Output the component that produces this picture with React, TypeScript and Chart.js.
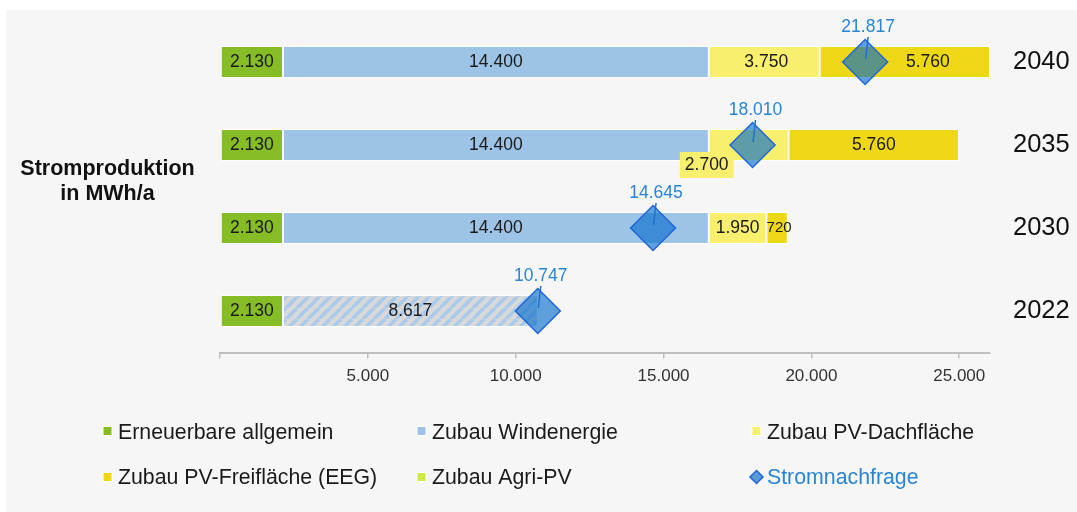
import React, { useEffect, useRef } from 'react';
import { Chart, registerables } from 'chart.js';

Chart.register(...registerables);

// ---- data ----
const years = ['2040', '2035', '2030', '2022'];
const erneuerbare = [2130, 2130, 2130, 2130];
const windenergie = [14400, 14400, 14400, 8617];
const pvDach = [3750, 2700, 1950, null];
const pvFrei = [5760, 5760, 720, null];
const agriPV = [null, null, null, null];
const stromnachfrage = [21817, 18010, 14645, 10747];
const xTickValues = [0, 5000, 10000, 15000, 20000, 25000];
const xMax = 26040;

const seriesNames = [
  'Erneuerbare allgemein',
  'Zubau Windenergie',
  'Zubau PV-Dachfläche',
  'Zubau PV-Freifläche (EEG)',
  'Zubau Agri-PV',
  'Stromnachfrage',
];

const titleLines = ['Stromproduktion', 'in MWh/a'];

// ---- styles ----
const FONT = "'Liberation Sans', Arial, sans-serif";
const C_GREEN = '#86bc25';
const C_BLUE = '#9dc3e6';
const C_DACH = '#f7ef6d';
const C_FREI = '#eed816';
const C_AGRI = '#cfe84a';
const C_DEMAND_FILL = 'rgba(0,106,204,0.62)';
const C_DEMAND_BORDER = '#2166d8';
const C_DEMAND_TEXT = '#2a84d2';

const fmt = (v: number) => String(Math.round(v)).replace(/\B(?=(\d{3})+(?!\d))/g, '.');

// label placement tweaks: key = datasetIndex-index
const labelOverrides: Record<string, { dx?: number; dy?: number; box?: string; size?: number }> = {
  '2-0': { dx: 2 },
  '2-1': { dx: -42, dy: 20, box: C_DACH },
  '3-0': { dx: 23 },
  '3-2': { dx: 2, size: 15 },
};

function makeHatch(): CanvasPattern | string {
  const s = 11;
  const c = document.createElement('canvas');
  c.width = s;
  c.height = s;
  const g = c.getContext('2d');
  if (!g) return '#d9d9d9';
  g.fillStyle = '#d9d9d9';
  g.fillRect(0, 0, s, s);
  g.strokeStyle = '#a9cbeb';
  g.lineWidth = 3.5;
  for (let k = -1; k <= 1; k++) {
    g.beginPath();
    g.moveTo(k * s, s);
    g.lineTo(k * s + s, 0);
    g.stroke();
  }
  const p = g.createPattern(c, 'repeat');
  return p || '#d9d9d9';
}

const decor = {
  id: 'decor',
  beforeDraw(chart: any) {
    const { ctx, width, height } = chart;
    ctx.save();
    ctx.fillStyle = '#ffffff';
    ctx.fillRect(0, 0, width, height);
    ctx.fillStyle = '#f6f6f6';
    ctx.fillRect(6, 10, width - 6, height - 10);
    ctx.restore();
  },
  afterDatasetsDraw(chart: any) {
    const { ctx } = chart;
    ctx.save();
    chart.data.datasets.forEach((ds: any, di: number) => {
      if (ds.type === 'line') return;
      const meta = chart.getDatasetMeta(di);
      meta.data.forEach((el: any, i: number) => {
        const v = ds.data[i];
        if (v == null) return;
        const ov = labelOverrides[`${di}-${i}`] || {};
        const cx = (el.x + el.base) / 2 + (ov.dx || 0);
        const cy = el.y + (ov.dy || 0);
        const size = ov.size || 17.5;
        ctx.font = `${size}px ${FONT}`;
        const txt = fmt(v);
        if (ov.box) {
          const w = ctx.measureText(txt).width + 10;
          ctx.fillStyle = ov.box;
          ctx.fillRect(cx - w / 2, cy - 13, w, 26);
        }
        ctx.fillStyle = '#1a1a1a';
        ctx.textAlign = 'center';
        ctx.textBaseline = 'middle';
        ctx.fillText(txt, cx, cy);
      });
    });
    // demand labels + leader lines
    chart.data.datasets.forEach((ds: any, di: number) => {
      if (ds.type !== 'line') return;
      const meta = chart.getDatasetMeta(di);
      meta.data.forEach((el: any, i: number) => {
        const v = ds.data[i];
        if (v == null) return;
        ctx.strokeStyle = '#1f6fd0';
        ctx.lineWidth = 1.5;
        ctx.beginPath();
        ctx.moveTo(el.x + 0.5, el.y - 3);
        ctx.lineTo(el.x + 3, el.y - 25);
        ctx.stroke();
        ctx.font = `17.5px ${FONT}`;
        ctx.fillStyle = C_DEMAND_TEXT;
        ctx.textAlign = 'center';
        ctx.textBaseline = 'middle';
        ctx.fillText(fmt(v), el.x + 3, el.y - 35);
      });
    });
    ctx.restore();
  },
  afterDraw(chart: any) {
    const { ctx } = chart;
    ctx.save();
    // left title
    ctx.font = `bold 21.5px ${FONT}`;
    ctx.fillStyle = '#111111';
    ctx.textAlign = 'center';
    ctx.textBaseline = 'alphabetic';
    ctx.fillText(titleLines[0], 107.5, 175);
    ctx.fillText(titleLines[1], 107.5, 200);

    // legend
    const colsBox = [103, 417, 752];
    const rowsBase = [439, 484];
    const rowsMid = [431, 477];
    const colors = [C_GREEN, C_BLUE, C_DACH, C_FREI, C_AGRI, null];
    ctx.font = `21.3px ${FONT}`;
    ctx.textAlign = 'left';
    seriesNames.forEach((name, k) => {
      const col = k % 3;
      const row = Math.floor(k / 3);
      const bx = colsBox[col];
      const my = rowsMid[row];
      const col0 = colors[k];
      if (col0) {
        ctx.fillStyle = col0;
        ctx.fillRect(bx, my - 4.5, 9, 9);
        ctx.strokeStyle = '#ffffff';
        ctx.lineWidth = 1;
        ctx.strokeRect(bx, my - 4.5, 9, 9);
        ctx.fillStyle = '#1a1a1a';
      } else {
        const cx = bx + 4.5;
        const r = 6.5;
        ctx.beginPath();
        ctx.moveTo(cx, my - r);
        ctx.lineTo(cx + r, my);
        ctx.lineTo(cx, my + r);
        ctx.lineTo(cx - r, my);
        ctx.closePath();
        ctx.fillStyle = '#5b9bd5';
        ctx.fill();
        ctx.strokeStyle = C_DEMAND_BORDER;
        ctx.lineWidth = 1.5;
        ctx.stroke();
        ctx.fillStyle = C_DEMAND_TEXT;
      }
      ctx.fillText(name, bx + 15, rowsBase[row]);
    });
    ctx.restore();
  },
};

export default function App() {
  const ref = useRef<HTMLCanvasElement | null>(null);

  useEffect(() => {
    if (!ref.current) return;
    const hatch = makeHatch();
    const barCommon = {
      type: 'bar' as const,
      stack: 'prod',
      order: 1,
      borderColor: 'rgba(255,255,255,0.85)',
      borderWidth: 1,
      borderSkipped: false,
      categoryPercentage: 0.386,
      barPercentage: 1,
    };
    const chart = new Chart(ref.current, {
      type: 'bar',
      data: {
        labels: years,
        datasets: [
          { ...barCommon, label: seriesNames[0], data: erneuerbare, backgroundColor: C_GREEN },
          {
            ...barCommon,
            label: seriesNames[1],
            data: windenergie,
            backgroundColor: [C_BLUE, C_BLUE, C_BLUE, hatch],
          },
          { ...barCommon, label: seriesNames[2], data: pvDach, backgroundColor: C_DACH },
          { ...barCommon, label: seriesNames[3], data: pvFrei, backgroundColor: C_FREI },
          { ...barCommon, label: seriesNames[4], data: agriPV, backgroundColor: C_AGRI },
          {
            type: 'line',
            label: seriesNames[5],
            data: stromnachfrage,
            indexAxis: 'y',
            stack: 'demand',
            order: 0,
            showLine: false,
            pointStyle: 'rectRot',
            pointRadius: 22.5,
            pointHoverRadius: 22.5,
            pointBackgroundColor: C_DEMAND_FILL,
            pointBorderColor: C_DEMAND_BORDER,
            pointBorderWidth: 1.5,
            backgroundColor: C_DEMAND_FILL,
            borderColor: C_DEMAND_BORDER,
            clip: false,
          } as any,
        ],
      },
      options: {
        indexAxis: 'y',
        responsive: false,
        animation: false,
        devicePixelRatio: 1,
        layout: { autoPadding: false, padding: { left: 220, top: 20.5, right: 0, bottom: 119.5 } },
        plugins: {
          legend: { display: false },
          tooltip: { enabled: false },
        },
        scales: {
          x: {
            type: 'linear',
            position: 'bottom',
            stacked: true,
            min: 0,
            max: xMax,
            afterBuildTicks: (s: any) => {
              s.ticks = xTickValues.map((v) => ({ value: v }));
            },
            afterFit: (s: any) => {
              s.height = 40;
              s.paddingLeft = 0;
              s.paddingRight = 0;
            },
            grid: {
              display: true,
              drawOnChartArea: false,
              drawTicks: true,
              tickLength: 6,
              color: '#bfbfbf',
              lineWidth: 1.5,
            },
            border: { display: true, color: '#bfbfbf', width: 2 },
            ticks: {
              padding: 8,
              color: '#333333',
              font: { family: FONT, size: 17 },
              callback: (v: any) => (Number(v) === 0 ? '' : fmt(Number(v))),
              maxRotation: 0,
            },
          },
          y: {
            type: 'category',
            position: 'right',
            stacked: true,
            afterFit: (s: any) => {
              s.width = 87;
              s.paddingTop = 0;
              s.paddingBottom = 0;
            },
            grid: { display: false, drawTicks: false },
            border: { display: false },
            ticks: {
              padding: 23,
              color: '#111111',
              font: { family: FONT, size: 25.5 },
            },
          },
        },
      },
      plugins: [decor],
    });
    return () => chart.destroy();
  }, []);

  return (
    <canvas
      ref={ref}
      width={1077}
      height={512}
      style={{ position: 'fixed', left: 0, top: 0, width: 1077, height: 512, display: 'block' }}
    />
  );
}
